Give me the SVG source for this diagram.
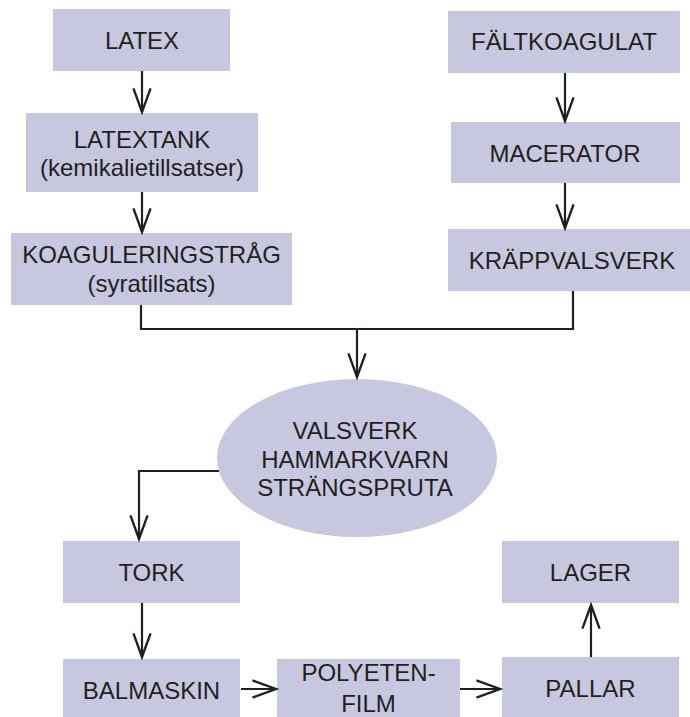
<svg xmlns="http://www.w3.org/2000/svg" width="690" height="717" viewBox="0 0 690 717">
<defs>
<style>
.box{fill:#c7c7e0;}
.t{font-family:"Liberation Sans",Arial,sans-serif;font-size:24px;fill:#231f20;text-anchor:middle;}
.c{fill:none;stroke:#231f20;stroke-width:2.2;}
</style>
<marker id="ah" markerUnits="userSpaceOnUse" markerWidth="30" markerHeight="24" viewBox="-24 -10 28 20" refX="0" refY="0" orient="auto">
<path d="M-22,-8 L0,0 L-22,8" fill="none" stroke="#231f20" stroke-width="2.2"/>
</marker>
</defs>
<rect width="690" height="717" fill="#ffffff"/>
<g id="latex"><rect class="box" x="53" y="9" width="177" height="62"/><text class="t" x="142" y="49">LATEX</text></g>
<g id="latextank"><rect class="box" x="26" y="113" width="232" height="79"/><text class="t" x="142" y="148">LATEXTANK</text><text class="t" x="142" y="176">(kemikalietillsatser)</text></g>
<g id="koagulering"><rect class="box" x="11" y="233" width="281" height="72"/><text class="t" x="151.5" y="263">KOAGULERINGSTRÅG</text><text class="t" x="151.5" y="292">(syratillsats)</text></g>
<g id="faltkoagulat"><rect class="box" x="448" y="11" width="232" height="62"/><text class="t" x="564" y="50">FÄLTKOAGULAT</text></g>
<g id="macerator"><rect class="box" x="451" y="122" width="229" height="61"/><text class="t" x="565" y="162">MACERATOR</text></g>
<g id="krappvalsverk"><rect class="box" x="448" y="229" width="242" height="62"/><text class="t" x="572" y="269">KRÄPPVALSVERK</text></g>
<g id="valsverk"><ellipse class="box" cx="357" cy="458" rx="140" ry="79"/><text class="t" x="355" y="439">VALSVERK</text><text class="t" x="355" y="468">HAMMARKVARN</text><text class="t" x="355" y="496">STRÄNGSPRUTA</text></g>
<g id="tork"><rect class="box" x="63" y="541" width="177" height="62"/><text class="t" x="151.5" y="581">TORK</text></g>
<g id="balmaskin"><rect class="box" x="63" y="659" width="177" height="58"/><text class="t" x="151.5" y="699">BALMASKIN</text></g>
<g id="polyeten"><rect class="box" x="277" y="659" width="183" height="58"/><text class="t" x="368.5" y="681">POLYETEN-</text><text class="t" x="368.5" y="712">FILM</text></g>
<g id="lager"><rect class="box" x="502" y="541" width="177" height="62"/><text class="t" x="590.5" y="581">LAGER</text></g>
<g id="pallar"><rect class="box" x="502" y="657" width="177" height="60"/><text class="t" x="590.5" y="697">PALLAR</text></g>
<g id="connectors">
<path class="c" d="M142,71 V112" marker-end="url(#ah)"/>
<path class="c" d="M142,192 V232" marker-end="url(#ah)"/>
<path class="c" d="M565,73 V121" marker-end="url(#ah)"/>
<path class="c" d="M565,183 V228" marker-end="url(#ah)"/>
<path class="c" d="M141,305 V329 H573 V291"/>
<path class="c" d="M357,329 V377" marker-end="url(#ah)"/>
<path class="c" d="M219,471 H139 V539" marker-end="url(#ah)"/>
<path class="c" d="M142,603 V657" marker-end="url(#ah)"/>
<path class="c" d="M241,689 H276" marker-end="url(#ah)"/>
<path class="c" d="M460,689 H500" marker-end="url(#ah)"/>
<path class="c" d="M591,657 V605" marker-end="url(#ah)"/>
</g>
</svg>
